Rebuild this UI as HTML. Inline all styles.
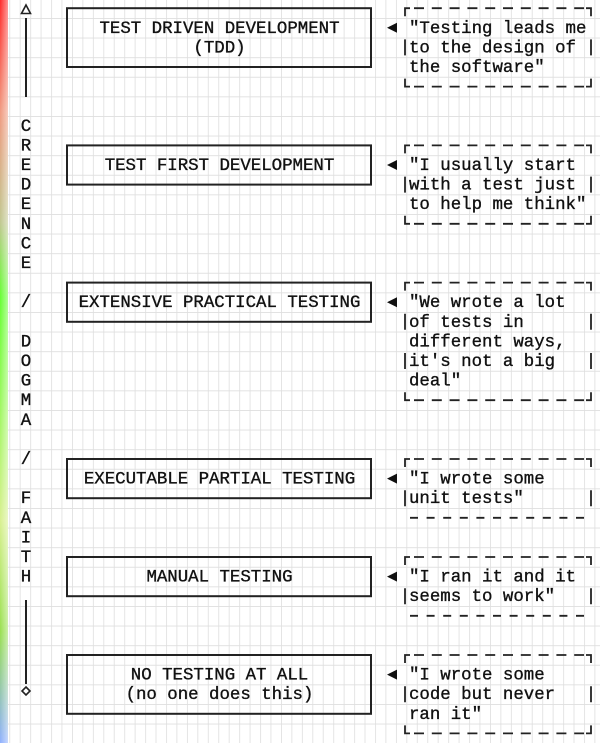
<!DOCTYPE html>
<html><head><meta charset="utf-8"><style>
html,body{margin:0;padding:0;background:#fff;}
svg{display:block;}
text{font-family:"Liberation Mono",monospace;font-size:17.4px;fill:#111;stroke:#111;stroke-width:0.35px;}
</style></head><body>
<svg width="600" height="743" viewBox="0 0 600 743" xmlns="http://www.w3.org/2000/svg">
<defs>
<pattern id="g" x="9.3" y="-1.6" width="10.45" height="19.6" patternUnits="userSpaceOnUse">
<path d="M0 0V19.6M0 0H10.45" stroke="#dedede" stroke-width="1.6" fill="none"/>
</pattern>
<linearGradient id="rb" x1="0" y1="0" x2="0" y2="1">
<stop offset="0" stop-color="#ff2a2a"/>
<stop offset="0.15" stop-color="#f09a80"/>
<stop offset="0.3" stop-color="#c0c890"/>
<stop offset="0.4" stop-color="#66ff33"/>
<stop offset="0.7" stop-color="#d8f090"/>
<stop offset="0.85" stop-color="#99e050"/>
<stop offset="1" stop-color="#8fb0ff"/>
</linearGradient>
<linearGradient id="wh" x1="0" y1="0" x2="1" y2="0">
<stop offset="0" stop-color="#fff" stop-opacity="0"/>
<stop offset="1" stop-color="#fff" stop-opacity="0.5"/>
</linearGradient>
</defs>
<rect width="600" height="743" fill="#fff"/>
<rect width="600" height="743" fill="url(#g)"/>
<rect x="0" y="0" width="8" height="743" fill="url(#rb)"/>
<rect x="0" y="0" width="8" height="743" fill="url(#wh)"/>

<g stroke="#222" stroke-width="2" fill="none">
<path d="M26 5 L30.5 13.5 L21.5 13.5 Z" stroke-width="1.6"/>
<line x1="26" y1="18" x2="26" y2="97"/>
<line x1="26" y1="600" x2="26" y2="684"/>
<path d="M26 687 L30 691 L26 695 L22 691 Z" stroke-width="1.6"/>
</g>
<g transform="translate(0,-1)">
<g text-anchor="middle">
<text x="26" y="131.8">C</text><text x="26" y="151.4">R</text><text x="26" y="171">E</text><text x="26" y="190.6">D</text>
<text x="26" y="210.2">E</text><text x="26" y="229.8">N</text><text x="26" y="249.4">C</text><text x="26" y="269">E</text>
<text x="26" y="308.2">/</text>
<text x="26" y="347.4">D</text><text x="26" y="367">O</text><text x="26" y="386.6">G</text><text x="26" y="406.2">M</text><text x="26" y="425.8">A</text>
<text x="26" y="465">/</text>
<text x="26" y="504.2">F</text><text x="26" y="523.8">A</text><text x="26" y="543.4">I</text><text x="26" y="563">T</text><text x="26" y="582.6">H</text>
</g>
<g text-anchor="middle">
<text x="219.5" y="33.8">TEST DRIVEN DEVELOPMENT</text>
<text x="219.5" y="53.4">(TDD)</text>
<text x="219.5" y="171">TEST FIRST DEVELOPMENT</text>
<text x="219.5" y="308.2">EXTENSIVE PRACTICAL TESTING</text>
<text x="219.5" y="484.6">EXECUTABLE PARTIAL TESTING</text>
<text x="219.5" y="582.6">MANUAL TESTING</text>
<text x="219.5" y="680.6">NO TESTING AT ALL</text>
<text x="219.5" y="700.2">(no one does this)</text>
</g>
<g>
<text x="409" y="33.8">"Testing leads me</text>
<text x="409" y="53.4">to the design of</text>
<text x="409" y="73">the software"</text>
<text x="409" y="171">"I usually start</text>
<text x="409" y="190.6">with a test just</text>
<text x="409" y="210.2">to help me think"</text>
<text x="409" y="308.2">"We wrote a lot</text>
<text x="409" y="327.8">of tests in</text>
<text x="409" y="347.4">different ways,</text>
<text x="409" y="367">it's not a big</text>
<text x="409" y="386.6">deal"</text>
<text x="409" y="484.6">"I wrote some</text>
<text x="409" y="504.2">unit tests"</text>
<text x="409" y="582.6">"I ran it and it</text>
<text x="409" y="602.2">seems to work"</text>
<text x="409" y="680.6">"I wrote some</text>
<text x="409" y="700.2">code but never</text>
<text x="409" y="719.8">ran it"</text>
</g>
</g>

<g stroke="#222" stroke-width="2" fill="none">
<rect x="67" y="8.2" width="304" height="58.8"/>
<rect x="67" y="145.4" width="304" height="39.2"/>
<rect x="67" y="282.6" width="304" height="39.2"/>
<rect x="67" y="459" width="304" height="39.2"/>
<rect x="67" y="557" width="304" height="39.2"/>
<rect x="67" y="655" width="304" height="58.8"/>
</g>

<g fill="#111">
<path d="M387 27.8 L397 22.8 L397 32.8 Z"/>
<path d="M387 165 L397 160 L397 170 Z"/>
<path d="M387 302.2 L397 297.2 L397 307.2 Z"/>
<path d="M387 478.6 L397 473.6 L397 483.6 Z"/>
<path d="M387 576.6 L397 571.6 L397 581.6 Z"/>
<path d="M387 674.6 L397 669.6 L397 679.6 Z"/>
</g>

<g stroke="#222" stroke-width="1.8" fill="none">
<path d="M405 16.2V8.2H410 M591 16.2V8.2H586 M405 39.4V55.4 M591 39.4V55.4 M405 78.6V86.6H410 M591 78.6V86.6H586"/>
<line x1="414" y1="8.2" x2="584" y2="8.2" stroke-dasharray="10 7.8"/>
<line x1="414" y1="86.6" x2="584" y2="86.6" stroke-dasharray="10 7.8"/>
<path d="M405 153.4V145.4H410 M591 153.4V145.4H586 M405 176.6V192.6 M591 176.6V192.6 M405 215.8V223.8H410 M591 215.8V223.8H586"/>
<line x1="414" y1="145.4" x2="584" y2="145.4" stroke-dasharray="10 7.8"/>
<line x1="414" y1="223.8" x2="584" y2="223.8" stroke-dasharray="10 7.8"/>
<path d="M405 290.6V282.6H410 M591 290.6V282.6H586 M405 313.8V329.8 M591 313.8V329.8 M405 353V369 M591 353V369 M405 392.2V400.2H410 M591 392.2V400.2H586"/>
<line x1="414" y1="282.6" x2="584" y2="282.6" stroke-dasharray="10 7.8"/>
<line x1="414" y1="400.2" x2="584" y2="400.2" stroke-dasharray="10 7.8"/>
<path d="M405 467V459H410 M591 467V459H586 M405 490.2V506.2 M591 490.2V506.2"/>
<line x1="414" y1="459" x2="584" y2="459" stroke-dasharray="10 7.8"/>
<line x1="410" y1="517.8" x2="592" y2="517.8" stroke-dasharray="8 8.6"/>
<path d="M405 565V557H410 M591 565V557H586 M405 588.2V604.2 M591 588.2V604.2"/>
<line x1="414" y1="557" x2="584" y2="557" stroke-dasharray="10 7.8"/>
<line x1="410" y1="615.8" x2="592" y2="615.8" stroke-dasharray="8 8.6"/>
<path d="M405 663V655H410 M591 663V655H586 M405 686.2V702.2 M591 686.2V702.2 M405 725.4V733.4H410 M591 725.4V733.4H586"/>
<line x1="414" y1="655" x2="584" y2="655" stroke-dasharray="10 7.8"/>
<line x1="414" y1="733.4" x2="584" y2="733.4" stroke-dasharray="10 7.8"/>
</g>
</svg>
</body></html>
